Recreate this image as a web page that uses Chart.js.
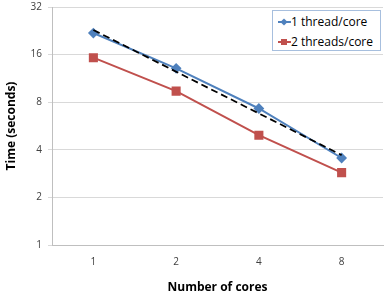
<!DOCTYPE html>
<html>
<head>
<meta charset="utf-8">
<script src="https://cdn.jsdelivr.net/npm/chart.js@4"></script>
<style>
  body { margin: 0; background: #fff; }
  #wrap { position: relative; width: 390px; height: 297px; }
  #legend {
    position: absolute; left: 272px; top: 10px; width: 107px; height: 39px;
    border: 1px solid #a7bfde; background: #fff;
    font-family: "Open Sans", sans-serif; font-size: 12px; color: #000;
  }
  .item { position: absolute; left: 5px; height: 16px; line-height: 16px; }
  .line { position: absolute; left: 0; top: 7px; width: 13px; height: 2px; }
  .mark { position: absolute; left: 3px; top: 5px; width: 6px; height: 6px; }
  .item span.t { position: absolute; left: 13px; white-space: nowrap; }
</style>
</head>
<body>
<div id="wrap">
  <canvas id="myChart" width="390" height="297"></canvas>
  <div id="legend">
    <div class="item" style="top:3px">
      <div class="line" style="background:#4F81BD"></div>
      <div class="mark" style="background:#4F81BD;transform:rotate(45deg) scale(0.85)"></div>
      <span class="t">1 thread/core</span>
    </div>
    <div class="item" style="top:23px">
      <div class="line" style="background:#C0504D"></div>
      <div class="mark" style="background:#C0504D"></div>
      <span class="t">2 threads/core</span>
    </div>
  </div>
</div>
<script>
// data
const cores = ['1', '2', '4', '8'];
const oneThread = [21.9, 13.1, 7.3, 3.55];
const twoThreads = [15.3, 9.4, 4.95, 2.87];
const trend = [22.9, null, null, 3.7];
const yTicks = [1, 2, 4, 8, 16, 32];

const ctx = document.getElementById('myChart');

new Chart(ctx, {
  type: 'line',
  data: {
    labels: cores,
    datasets: [{
      label: 'trend',
      data: trend,
      borderColor: '#000',
      borderWidth: 1.75,
      borderDash: [7, 4],
      pointRadius: 0,
      spanGaps: true,
      order: 0
    }, {
      label: '1 thread/core',
      data: oneThread,
      borderColor: '#4F81BD',
      backgroundColor: '#4F81BD',
      borderWidth: 2,
      pointStyle: 'rectRot',
      pointRadius: 4,
      order: 1
    }, {
      label: '2 threads/core',
      data: twoThreads,
      borderColor: '#C0504D',
      backgroundColor: '#C0504D',
      borderWidth: 2,
      pointStyle: 'rect',
      pointRadius: 5,
      order: 2
    }]
  },
  options: {
    responsive: false,
    animation: false,
    layout: { padding: { top: 5, right: 3, bottom: 0, left: 0 } },
    plugins: {
      legend: { display: false },
      tooltip: { enabled: false }
    },
    scales: {
      x: {
        offset: true,
        grid: { display: false },
        border: { color: '#bfbfbf' },
        ticks: { color: '#404040', font: { family: 'Open Sans', size: 10 }, padding: 3 },
        title: {
          display: true, text: 'Number of cores', color: '#000',
          font: { family: 'Open Sans', size: 12, weight: 'bold' },
          padding: { top: 9, bottom: 2 }
        },
        afterFit: (scale) => { scale.height = 52; scale.paddingLeft = 0; scale.paddingRight = 0; }
      },
      y: {
        type: 'logarithmic',
        min: 1,
        max: 32,
        afterBuildTicks: (scale) => { scale.ticks = yTicks.map(v => ({ value: v })); },
        grid: { color: '#d9d9d9', tickLength: 4 },
        border: { color: '#bfbfbf' },
        ticks: {
          color: '#404040', font: { family: 'Open Sans', size: 10 }, padding: 6,
          callback: (v) => String(v)
        },
        title: {
          display: true, text: 'Time (seconds)', color: '#000',
          font: { family: 'Open Sans', size: 12, weight: 'bold' },
          padding: { top: 4, bottom: 0 }
        },
        afterFit: (scale) => { scale.width = 52; scale.paddingTop = 0; scale.paddingBottom = 0; }
      }
    }
  }
});
</script>
</body>
</html>
